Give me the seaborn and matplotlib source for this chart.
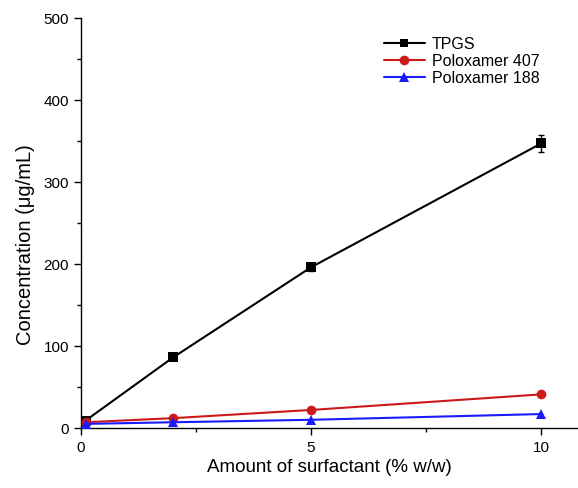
import matplotlib
matplotlib.use("Agg")
import matplotlib.pyplot as plt
import seaborn as sns
import pandas as pd
from matplotlib.ticker import MultipleLocator

sns.set_style("ticks", {"axes.edgecolor": "black", "xtick.color": "black",
                        "ytick.color": "black", "text.color": "black",
                        "axes.labelcolor": "black"})
plt.rcParams['font.family'] = ['Liberation Sans', 'DejaVu Sans']

x_vals = [0.1, 2, 5, 10]
tpgs = [9, 86, 196, 347]
tpgs_err = [2, 2, 5, 10]
p407 = [7, 12, 22, 41]
p188 = [5, 7, 10, 17]
series_names = ["TPGS", "Poloxamer 407", "Poloxamer 188"]
colors = ["#000000", "#cc1a1a", "#1a1aff"]
markers = ["s", "o", "^"]

df = pd.DataFrame({
    "x": x_vals * 3,
    "y": tpgs + p407 + p188,
    "series": [series_names[0]] * 4 + [series_names[1]] * 4 + [series_names[2]] * 4,
})

fig = plt.figure(figsize=(5.78, 4.89), dpi=100)
ax = fig.add_axes([0.140, 0.1227, 0.86, 0.8385])

ax.errorbar(x_vals, tpgs, yerr=tpgs_err, fmt="none", ecolor="#000000",
            elinewidth=1, capsize=2.5, capthick=1, zorder=2)
sns.lineplot(data=df, x="x", y="y", hue="series", style="series",
             palette=dict(zip(series_names, colors)),
             markers=dict(zip(series_names, markers)), dashes=False,
             markersize=7, markeredgewidth=0, linewidth=1.5, ax=ax, zorder=3)
for line, ms in zip(ax.get_lines()[-3:], [6, 7, 7.5]):
    line.set_markersize(ms)

ax.set_xlim(0, 10.8)
ax.set_ylim(0, 500)
ax.xaxis.set_major_locator(MultipleLocator(5))
ax.xaxis.set_minor_locator(MultipleLocator(2.5))
ax.yaxis.set_major_locator(MultipleLocator(100))
ax.yaxis.set_minor_locator(MultipleLocator(50))
ax.tick_params(which="major", length=5, width=1, labelsize=11, direction="out")
ax.tick_params(which="minor", length=3, width=1, direction="out")
for s in ["top", "right"]:
    ax.spines[s].set_visible(False)
for s in ["left", "bottom"]:
    ax.spines[s].set_linewidth(1)
ax.set_xlabel("Amount of surfactant (% w/w)", fontsize=13.5, labelpad=3)
ax.set_ylabel("Concentration (μg/mL)", fontsize=14.5)
ax.yaxis.set_label_coords(-0.093, 0.449)

handles, labels = ax.get_legend_handles_labels()
for h, ms in zip(handles, [6, 7, 7.5]):
    h.set_markersize(ms)
leg = ax.legend(handles, labels, loc="upper right", bbox_to_anchor=(0.951, 0.99),
                frameon=False, fontsize=11.5, handlelength=2.6, handletextpad=0.4,
                labelspacing=0.12)

fig.savefig("out.png", dpi=100)
